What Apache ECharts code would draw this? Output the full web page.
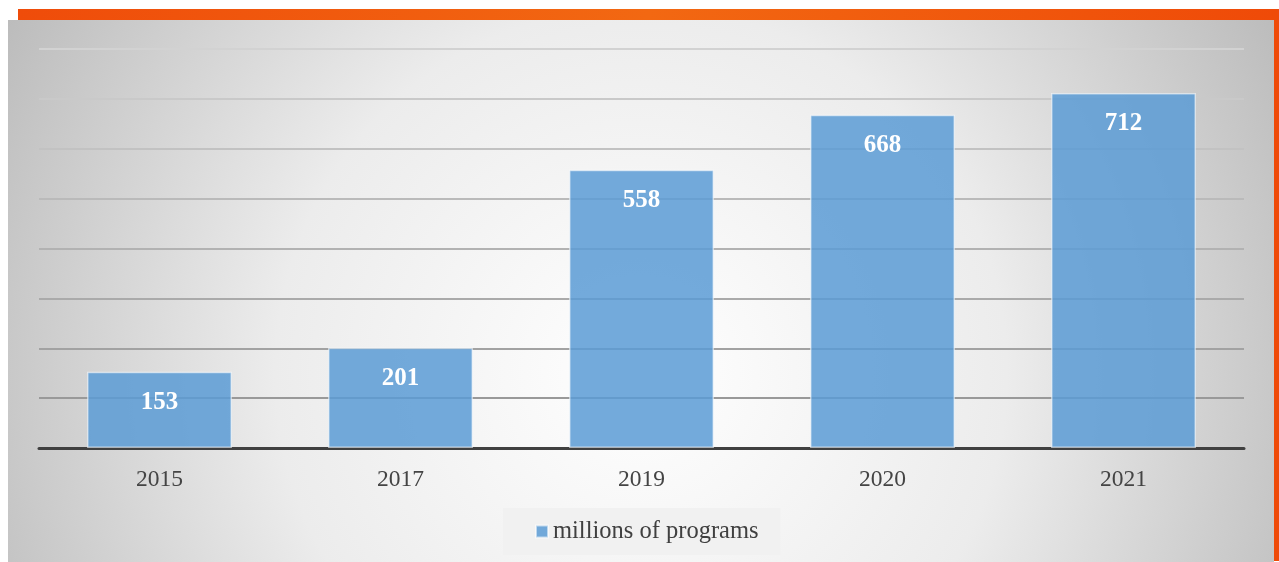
<!DOCTYPE html>
<html>
<head>
<meta charset="utf-8">
<script src="https://cdn.jsdelivr.net/npm/echarts@6/dist/echarts.min.js"></script>
<style>
  html, body { margin: 0; padding: 0; background: #fff; }
  #main { width: 1279px; height: 562px; }
</style>
</head>
<body>
<div id="main"></div>
<script>
// data
var years = ['2015', '2017', '2019', '2020', '2021']
var programs = [153, 201, 558, 668, 712]
var seriesName = 'millions of programs'

// gridlines get darker toward the bottom in the original
var gridColors = ['#8a8a8a', '#999999', '#a2a2a2', '#aaaaaa', '#b2b2b2', '#bababa', '#c2c2c2', '#c9c9c9', '#d2d2d2']

var myChart = echarts.init(document.getElementById('main'))

var option = {
  backgroundColor: '#ffffff',
  animation: false,
  graphic: [
    {
      type: 'rect', z: -100,
      shape: { x: 18, y: 9, width: 1261, height: 11 },
      style: {
        fill: new echarts.graphic.LinearGradient(0, 0, 1, 0, [
          { offset: 0, color: '#ef4c0a' },
          { offset: 0.5, color: '#f26812' },
          { offset: 1, color: '#ef4a08' }
        ])
      }
    },
    {
      type: 'rect', z: -100,
      shape: { x: 1274, y: 9, width: 5, height: 552 },
      style: { fill: '#ef4a08' }
    },
    {
      type: 'rect', z: -100,
      shape: { x: 8, y: 20, width: 1266, height: 542 },
      style: {
        fill: new echarts.graphic.RadialGradient(0.5, 0.65, 1.35, [
          { offset: 0, color: '#ffffff' },
          { offset: 0.5, color: '#ececec' },
          { offset: 1, color: '#bbbbbb' }
        ])
      }
    }
  ],
  grid: { left: 39, right: 35, top: 49, bottom: 114 },
  legend: {
    data: [seriesName],
    left: 503,
    top: 508,
    padding: [11, 22, 11, 32],
    backgroundColor: '#f1f1f1',
    itemWidth: 12,
    itemHeight: 12,
    itemGap: 6,
    icon: 'rect',
    textStyle: { fontFamily: 'Liberation Serif', fontSize: 24.5, color: '#404040' }
  },
  xAxis: {
    type: 'category',
    data: years,
    axisLine: { lineStyle: { color: '#404040', width: 3 } },
    axisTick: { show: false },
    axisLabel: { fontFamily: 'Liberation Serif', fontSize: 23.5, color: '#444444', margin: 20 }
  },
  yAxis: {
    type: 'value',
    min: 0,
    max: 800,
    interval: 100,
    axisLabel: { show: false },
    axisLine: { show: false },
    axisTick: { show: false },
    splitLine: { lineStyle: { color: gridColors, width: 2 } }
  },
  series: [
    {
      name: seriesName,
      type: 'bar',
      data: programs,
      barWidth: 145,
      itemStyle: {
        color: 'rgba(91,155,213,0.85)',
        borderColor: 'rgba(255,255,255,0.55)',
        borderWidth: 1.5
      },
      label: {
        show: true,
        position: 'insideTop',
        distance: 18,
        color: '#ffffff',
        fontFamily: 'Liberation Serif',
        fontWeight: 'bold',
        fontSize: 25
      }
    }
  ]
}

myChart.setOption(option)
</script>
</body>
</html>
